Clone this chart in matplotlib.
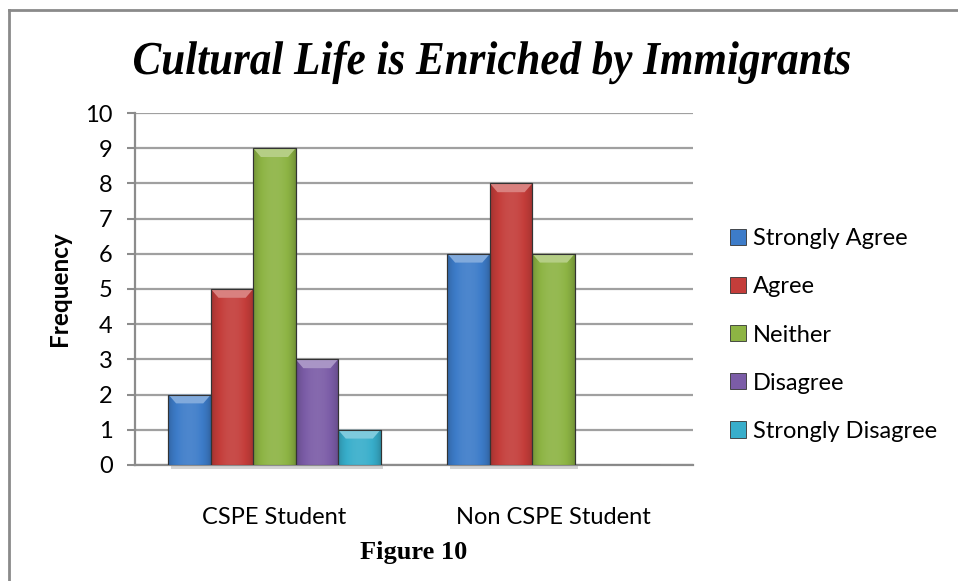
import numpy as np
import matplotlib.pyplot as plt
from matplotlib.patches import Patch, PathPatch, Polygon
from matplotlib.textpath import TextPath
from matplotlib.font_manager import FontProperties
from matplotlib.transforms import Affine2D
from matplotlib.colors import to_rgb

# Survey answers per group
groups = ["CSPE Student", "Non CSPE Student"]
answers = ["Strongly Agree", "Agree", "Neither", "Disagree", "Strongly Disagree"]
strongly_agree = [2, 6]
agree = [5, 8]
neither = [9, 6]
disagree = [3, 0]
strongly_disagree = [1, 0]
counts = [strongly_agree, agree, neither, disagree, strongly_disagree]

colors = ["#3d7cc9", "#c43d3a", "#8db444", "#7b5ca7", "#38aecb"]

plt.rcParams["font.family"] = ["Lato", "DejaVu Sans"]

fig = plt.figure(figsize=(9.58, 5.81), dpi=100)
ax = fig.add_axes([0.1409, 0.1997, 0.5825, 0.6058])

x = np.arange(len(groups))
w = 0.152


def shade(c, f):
    r = np.array(to_rgb(c))
    if f >= 1:
        return tuple(r + (1 - r) * (f - 1))
    return tuple(r * f)


# horizontal shading across a bar: dark edges, brighter middle
prof = np.linspace(0, 1, 64)
prof = 0.78 + 0.3 * np.sin(np.pi * prof) ** 0.6

for i, (vals, c) in enumerate(zip(counts, colors)):
    bars = ax.bar(x + (i - 2) * w, vals, w, color=c, edgecolor="#2a2a2a",
                  linewidth=0.8, zorder=3)
    for b in bars:
        h = b.get_height()
        if h <= 0:
            continue
        x0, bw = b.get_x(), b.get_width()
        img = np.array([[shade(c, f) for f in prof]])
        im = ax.imshow(img, extent=(x0, x0 + bw, 0, h), aspect="auto",
                       zorder=3.5, interpolation="bicubic")
        im.set_clip_path(b)
        # bevelled top edge
        bv = min(0.25, h / 2)
        ins = bw * 0.18
        top = Polygon([(x0, h), (x0 + bw, h), (x0 + bw - ins, h - bv), (x0 + ins, h - bv)],
                      closed=True, facecolor=shade(c, 1.35), edgecolor="none", zorder=4)
        ax.add_patch(top)
        ax.add_patch(Polygon([(x0, h), (x0, 0), (x0 + bw, 0), (x0 + bw, h)], closed=True,
                             fill=False, edgecolor="#333333", linewidth=0.8, zorder=4.5))
        # soft shadow under the bar
        ax.add_patch(Polygon([(x0 + 0.01, 0), (x0 + bw + 0.01, 0), (x0 + bw + 0.01, -0.12),
                              (x0 + 0.01, -0.12)], closed=True, facecolor="#d4d4d4",
                             edgecolor="none", zorder=2, clip_on=False))

ax.set_xlim(-0.5, 1.5)
ax.set_ylim(0, 10)
ax.set_yticks(range(0, 11))
ax.set_xticks(x)
ax.set_xticklabels(groups)
ax.tick_params(axis="y", length=6, width=1.5, color="#8c8c8c", labelsize=17, pad=10)
ax.tick_params(axis="x", length=0, labelsize=17, pad=30)
ax.yaxis.grid(True, color="#a0a0a0", linewidth=1.6, zorder=0)
ax.set_axisbelow(True)
for s in ["top", "right"]:
    ax.spines[s].set_visible(False)
for s in ["left", "bottom"]:
    ax.spines[s].set_color("#8c8c8c")
    ax.spines[s].set_linewidth(1.6)
ax.set_ylabel("Frequency", fontsize=17.5, fontweight="bold")
ax.yaxis.set_label_coords(-0.115, 0.5)

handles = [Patch(facecolor=c, edgecolor="#333333", linewidth=0.6) for c in colors]
fig.legend(handles, answers, loc="center left", bbox_to_anchor=(0.762, 1 - 335 / 581),
           frameon=False, fontsize=17, handlelength=0.68, handleheight=0.68,
           handletextpad=0.3, labelspacing=1.15, borderaxespad=0, borderpad=0)

# condensed serif title drawn as a path
fp = FontProperties(family="Liberation Serif", weight="bold", style="italic")
title = "Cultural Life is Enriched by Immigrants"
tp = TextPath((0, 0), title, size=34, prop=fp)
ext = tp.get_extents()
sx = 716 / (ext.width / 72 * 100)
tr = Affine2D().translate(-(ext.x0 + ext.width / 2), 0).scale(sx / 72, 1 / 72) \
    .translate(4.92, (581 - 74) / 100) + fig.dpi_scale_trans
fig.patches.append(PathPatch(tp, transform=tr, facecolor="black", edgecolor="none"))

fig.text(414 / 958, 1 - 553 / 581, "Figure 10", family="Liberation Serif",
         fontweight="bold", fontsize=19, ha="center", va="center")

# outer frame (top and left edges only)
fig.add_artist(plt.Line2D([9 / 958, 9 / 958], [0, 1 - 10 / 581], transform=fig.transFigure,
                          color="#8a8a8a", linewidth=2))
fig.add_artist(plt.Line2D([9 / 958, 1], [1 - 10 / 581, 1 - 10 / 581], transform=fig.transFigure,
                          color="#8a8a8a", linewidth=2))

fig.savefig("out.png", dpi=100)
